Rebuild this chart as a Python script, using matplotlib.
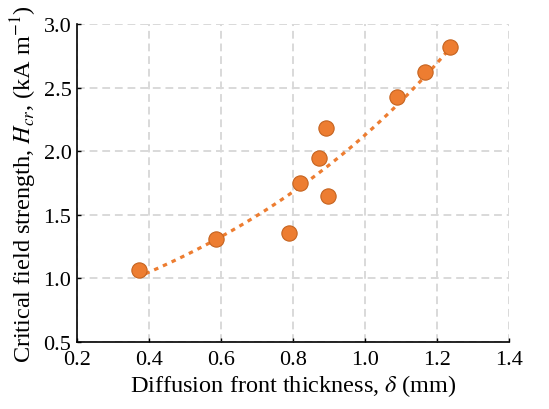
import numpy as np
import matplotlib.pyplot as plt

plt.rcParams['font.family'] = ['Liberation Serif', 'DejaVu Serif']
plt.rcParams['mathtext.fontset'] = 'stix'

# diffusion front thickness (mm) and critical field strength (kA/m)
delta = [0.373, 0.586, 0.790, 0.819, 0.871, 0.891, 0.898, 1.088, 1.166, 1.237]
h_cr = [1.069, 1.310, 1.357, 1.752, 1.944, 2.185, 1.650, 2.429, 2.623, 2.819]

orange = '#ED7D31'

fig = plt.figure(figsize=(5.49, 4.10), dpi=100)
ax = fig.add_axes([77/549, 1 - 343/410, 432/549, 318/410])

# exponential trendline (least squares on log y)
b, ln_a = np.polyfit(delta, np.log(h_cr), 1)
xf = np.linspace(0.39, max(delta), 200)
ax.plot(xf, np.exp(ln_a) * np.exp(b * xf), color=orange, lw=2.3,
        dashes=(1.4, 1.6), dash_capstyle='butt', zorder=2)

ax.plot(delta, h_cr, 'o', ms=11, color=orange, mec='#C5631F', mew=0.8, zorder=3)

ax.set_xlim(0.2, 1.4)
ax.set_ylim(0.5, 3.0)
ax.set_xticks(np.arange(0.2, 1.41, 0.2))
ax.set_yticks(np.arange(0.5, 3.01, 0.5))
ax.xaxis.set_major_formatter(plt.FormatStrFormatter('%.1f'))
ax.yaxis.set_major_formatter(plt.FormatStrFormatter('%.1f'))
ax.grid(True, color='#D9D9D9', lw=1.4, dashes=(4, 2.5))
ax.set_axisbelow(True)
for s in ['top', 'right']:
    ax.spines[s].set_visible(False)
ax.spines['left'].set_linewidth(1.2)
ax.spines['bottom'].set_linewidth(1.2)
ax.tick_params(direction='in', length=3, width=1, labelsize=16)
ax.tick_params(axis='x', pad=6)
ax.tick_params(axis='y', pad=4)

ax.set_xlabel(r'Diffusion front thickness, $\delta$ (mm)', fontsize=17.5, labelpad=2)
ax.set_ylabel(r'Critical field strength, $H_{cr}$, (kA m$^{-1}$)', fontsize=17.5, labelpad=3)

plt.savefig('out.png', dpi=100)
